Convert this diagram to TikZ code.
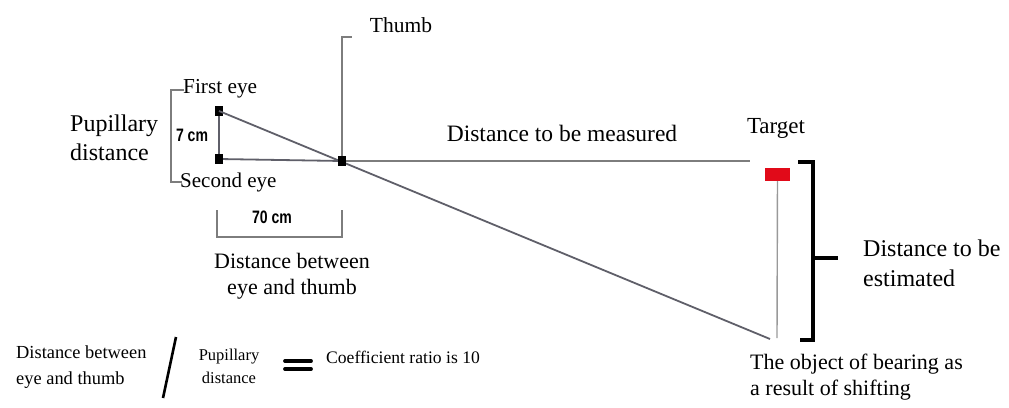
\documentclass[tikz,border=0pt]{standalone}
\usepackage{fontspec}
\setmainfont{Liberation Serif}
\newfontfamily\cmfont{Liberation Sans}
\usetikzlibrary{calc, positioning}

\definecolor{sightgray}{RGB}{95,95,105}
\definecolor{guidegray}{RGB}{125,125,125}
\definecolor{targetred}{RGB}{225,10,25}

\tikzset{
    eyedot/.style={fill=black, minimum width=8pt, minimum height=9.5pt, inner sep=0pt},
    sight/.style={draw=sightgray, line width=1.8pt},
    guide/.style={draw=guidegray, line width=1.7pt},
    bigbrace/.style={draw=black, line width=4pt},
    lbl/.style={inner sep=0pt, align=center},
    cmlbl/.style={inner sep=0pt, font=\cmfont\bfseries\fontsize{18}{20}\selectfont, xscale=0.78},
}

\begin{document}
\begin{tikzpicture}[x=1pt, y=-1pt]
    \useasboundingbox (0,0) rectangle (1009,407);

    % Eyes, thumb and the points far away
    \node[eyedot] (eye1) at (219,111) {};
    \node[eyedot] (eye2) at (219,159) {};
    \node[eyedot] (thumb) at (342,161) {};
    \coordinate (measend) at (750,161);
    \coordinate (shift) at (770,339);
    \node[fill=targetred, minimum width=25pt, minimum height=13pt, inner sep=0pt] (target) at (777.5,174.5) {};
    \coordinate (base) at (777,338);

    % Lines of sight
    \draw[sight] (eye1) -- (eye2);
    \draw[sight] (eye2) -- (thumb);
    \draw[sight] (eye1.center) -- (shift);
    \draw[guide] (thumb) -- (measend);
    \draw[draw=black!40, line width=1.4pt] (target) -- (base);
    \node[eyedot] at (thumb) {};

    % Brackets round the eyes and the thumb
    \draw[guide] (184,90) -- (171,90) -- (171,182) -- (182,182);
    \draw[guide] (thumb.north) -- (342,37) -- (352,37);
    \draw[guide] (217,210) -- (217,237) -- (342,237) -- (342,210);

    % Thick bracket for the estimated distance
    \draw[bigbrace] (798,162) -- (813,162) -- (813,340) -- (800,340);
    \draw[bigbrace] (813,258) -- (838,258);

    % Labels
    \node[lbl, font=\fontsize{21.5}{24}\selectfont] (thumblbl) at (401,25) {Thumb};
    \node[lbl, anchor=west, font=\fontsize{21.3}{24}\selectfont] (eye1lbl) at (183,89) {First eye};
    \node[lbl, anchor=west, font=\fontsize{21}{24}\selectfont] (eye2lbl) at (180,182) {Second eye};
    \node[lbl, anchor=west, align=left, font=\fontsize{24}{29}\selectfont] (pupil) at (70,138) {Pupillary\\distance};
    \node[cmlbl] (sevencm) at (192,135) {7 cm};
    \node[cmlbl] (seventycm) at (272,217) {70 cm};
    \node[lbl, font=\fontsize{22}{26}\selectfont] (eyethumb) at (292,276) {Distance between\\eye and thumb};
    \node[lbl, font=\fontsize{23.5}{26}\selectfont] (measured) at (562,133) {Distance to be measured};
    \node[lbl, font=\fontsize{23}{26}\selectfont] (targetlbl) at (776,128) {Target};
    \node[lbl, anchor=west, align=left, font=\fontsize{24}{30}\selectfont] (estimated) at (863,263) {Distance to be\\estimated};
    \node[lbl, anchor=west, align=left, font=\fontsize{22}{26}\selectfont] (shifting) at (750,377) {The object of bearing as\\a result of shifting};

    % The ratio written at the bottom
    \node[lbl, anchor=west, align=left, font=\fontsize{18.4}{26}\selectfont] (ratiotop) at (16,367) {Distance between\\eye and thumb};
    \draw[black, line width=2.6pt] (176,337) -- (163,398);
    \node[lbl, font=\fontsize{16.5}{23}\selectfont] (ratiobot) at (229,366) {Pupillary\\distance};
    \foreach \y in {361,369}{
        \draw[black, line width=3.8pt, line cap=round] (285,\y) -- (311,\y);
    }
    \node[lbl, anchor=west, font=\fontsize{17.6}{20}\selectfont] (coeff) at (326,357) {Coefficient ratio is 10};
\end{tikzpicture}
\end{document}
